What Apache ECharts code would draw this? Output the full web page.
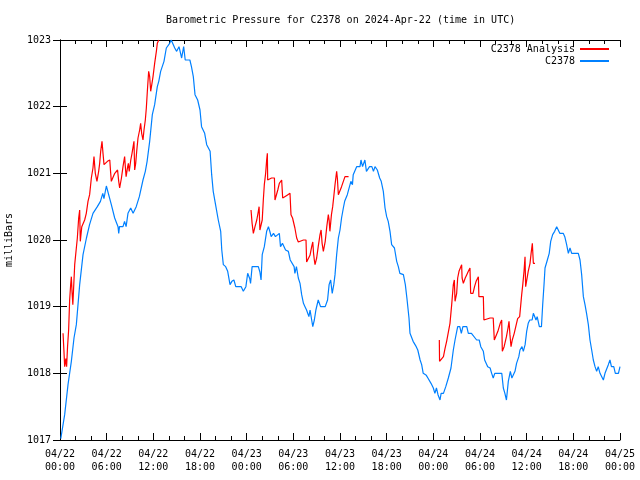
<!DOCTYPE html>
<html>
<head>
<meta charset="utf-8">
<script src="https://cdn.jsdelivr.net/npm/echarts@6/dist/echarts.min.js"></script>
<style>html,body{margin:0;padding:0;background:#fff}#c{width:640px;height:480px}</style>
</head>
<body>
<div id="c"></div>
<script>
// Hours since 2024-04-22 00:00 UTC
var tickLabels = ["04/22\n00:00","04/22\n06:00","04/22\n12:00","04/22\n18:00","04/23\n00:00","04/23\n06:00","04/23\n12:00","04/23\n18:00","04/24\n00:00","04/24\n06:00","04/24\n12:00","04/24\n18:00","04/25\n00:00"];

var obsHours = [0.1,0.6,1.03,1.46,1.8,2.1,2.53,2.96,3.4,3.8,4.24,4.8,5.2,5.5,5.65,5.96,6.2,6.6,7.03,7.46,7.55,7.65,8.1,8.3,8.5,8.74,9.09,9.4,9.8,10.2,10.67,10.97,11.2,11.53,11.87,12.17,12.51,12.7,12.94,13.37,13.67,14.1,14.3,14.75,15.0,15.3,15.64,15.9,16.1,16.7,16.9,17.14,17.36,17.7,18.0,18.2,18.6,18.86,19.3,19.5,19.7,20.0,20.35,20.66,20.8,21.0,21.3,21.56,21.86,22.1,22.36,22.6,23.3,23.57,23.7,23.9,24.13,24.4,24.5,24.7,25.5,25.7,25.85,26.0,26.27,26.57,26.8,27.0,27.15,27.45,27.7,27.9,28.2,28.35,28.6,29.0,29.36,29.6,30.1,30.2,30.4,30.64,30.86,31.07,31.3,31.5,31.7,31.9,32.0,32.15,32.36,32.5,32.7,32.9,33.2,33.5,34.1,34.4,34.6,34.8,35.0,35.2,35.36,35.57,35.79,36.0,36.2,36.43,36.6,36.94,37.1,37.4,37.6,37.7,38.14,38.57,38.7,38.9,39.2,39.4,39.6,39.8,40.1,40.3,40.5,40.8,41.1,41.3,41.57,41.79,42.0,42.2,42.43,42.64,43.0,43.29,43.5,43.7,44.15,44.4,44.6,44.87,45.0,45.4,45.8,46.0,46.3,46.5,46.7,47.1,47.3,47.7,48.0,48.2,48.4,48.6,48.86,49.0,49.3,49.6,49.93,50.27,50.57,50.79,51.13,51.4,51.6,51.8,52.3,52.5,52.9,53.57,53.9,54.1,54.43,54.6,54.99,55.3,55.5,55.7,55.9,56.8,57.0,57.2,57.4,57.64,57.9,58.1,58.3,58.5,58.7,58.99,59.14,59.4,59.57,59.8,60.0,60.2,60.4,60.7,60.86,61.07,61.2,61.35,61.63,61.9,62.06,62.23,62.36,62.66,62.9,63.09,63.34,63.6,63.86,64.05,64.26,64.7,64.9,65.14,65.36,65.57,65.79,66.64,66.86,67.07,67.29,67.5,67.7,67.93,68.14,68.36,68.57,68.79,69.0,69.2,69.43,69.6,69.86,70.07,70.3,70.5,70.71,70.9,71.2,71.4,71.8,72.0];
var obsPressure = [1017.02,1017.38,1017.83,1018.18,1018.53,1018.73,1019.33,1019.78,1020.03,1020.23,1020.4,1020.5,1020.58,1020.7,1020.62,1020.81,1020.78,1020.53,1020.33,1020.2,1020.1,1020.2,1020.2,1020.28,1020.2,1020.4,1020.48,1020.4,1020.5,1020.65,1020.9,1021.03,1021.18,1021.48,1021.88,1022.03,1022.3,1022.38,1022.53,1022.68,1022.88,1022.95,1023.0,1022.88,1022.83,1022.9,1022.73,1022.9,1022.7,1022.7,1022.6,1022.45,1022.18,1022.1,1021.95,1021.7,1021.6,1021.43,1021.33,1020.98,1020.73,1020.53,1020.3,1020.13,1019.85,1019.63,1019.6,1019.53,1019.33,1019.38,1019.4,1019.3,1019.3,1019.23,1019.2,1019.3,1019.5,1019.42,1019.35,1019.6,1019.6,1019.52,1019.4,1019.78,1019.9,1020.13,1020.2,1020.12,1020.05,1020.1,1020.05,1020.05,1020.1,1019.9,1019.95,1019.85,1019.83,1019.7,1019.6,1019.5,1019.6,1019.43,1019.35,1019.18,1019.05,1019.0,1018.95,1018.98,1018.85,1018.95,1018.8,1018.7,1018.8,1018.95,1019.1,1019.0,1019.0,1019.1,1019.33,1019.4,1019.2,1019.33,1019.48,1019.78,1020.03,1020.15,1020.33,1020.48,1020.58,1020.68,1020.7,1020.88,1020.83,1020.98,1021.1,1021.1,1021.2,1021.1,1021.2,1021.03,1021.05,1021.1,1021.1,1021.03,1021.1,1021.05,1020.93,1020.88,1020.73,1020.48,1020.35,1020.28,1020.13,1019.93,1019.88,1019.68,1019.6,1019.5,1019.48,1019.33,1019.13,1018.83,1018.6,1018.48,1018.4,1018.35,1018.2,1018.13,1018.0,1017.97,1017.93,1017.85,1017.78,1017.7,1017.78,1017.68,1017.6,1017.7,1017.7,1017.8,1017.93,1018.08,1018.35,1018.5,1018.7,1018.7,1018.6,1018.7,1018.7,1018.6,1018.6,1018.5,1018.5,1018.4,1018.33,1018.2,1018.1,1018.08,1018.0,1017.93,1018.0,1018.0,1017.78,1017.7,1017.6,1017.88,1018.03,1017.93,1017.93,1018.03,1018.15,1018.25,1018.35,1018.4,1018.33,1018.43,1018.63,1018.75,1018.8,1018.8,1018.9,1018.9,1018.8,1018.85,1018.7,1018.7,1019.03,1019.33,1019.58,1019.7,1019.8,1019.98,1020.08,1020.13,1020.2,1020.2,1020.1,1020.1,1020.05,1019.93,1019.8,1019.88,1019.8,1019.8,1019.7,1019.48,1019.15,1019.03,1018.9,1018.73,1018.5,1018.35,1018.2,1018.1,1018.03,1018.1,1018.0,1017.98,1017.9,1018.0,1018.03,1018.13,1018.2,1018.1,1018.1,1018.0,1018.0,1018.1];

var anaHours1 = [0.39,0.5,0.6,0.75,0.85,0.97,1.11,1.24,1.37,1.46,1.55,1.65,1.77,1.89,2.1,2.23,2.4,2.53,2.57,2.61,2.8,2.96,3.17,3.38,3.6,3.81,4.03,4.24,4.37,4.54,4.75,4.97,5.1,5.23,5.4,5.53,5.66,6.1,6.4,6.5,6.6,6.8,7.04,7.4,7.46,7.55,7.67,7.9,8.1,8.31,8.4,8.5,8.7,8.79,8.9,9.1,9.26,9.51,9.6,9.73,9.86,10.03,10.24,10.37,10.5,10.67,10.8,10.97,11.1,11.23,11.4,11.53,11.66,11.8,11.96,12.17,12.39,12.51,12.7];
var anaPressure1 = [1018.6,1018.35,1018.1,1018.22,1018.1,1018.4,1018.65,1019.1,1019.33,1019.45,1019.22,1019.03,1019.33,1019.63,1019.88,1020.03,1020.33,1020.45,1020.2,1019.98,1020.2,1020.2,1020.3,1020.4,1020.58,1020.68,1020.93,1021.08,1021.25,1021.0,1020.88,1021.03,1021.15,1021.33,1021.48,1021.3,1021.13,1021.18,1021.2,1021.03,1020.88,1020.88,1021.0,1021.05,1021.08,1020.88,1020.78,1020.93,1021.1,1021.25,1021.1,1020.95,1021.1,1021.15,1021.03,1021.2,1021.3,1021.48,1021.05,1021.15,1021.33,1021.53,1021.65,1021.75,1021.6,1021.5,1021.65,1021.8,1021.98,1022.23,1022.53,1022.45,1022.23,1022.33,1022.45,1022.65,1022.83,1022.95,1023.0];

var anaHours2 = [24.56,24.7,24.86,25.07,25.3,25.5,25.6,25.7,25.9,26.0,26.14,26.27,26.44,26.57,26.66,26.7,27.2,27.57,27.64,27.85,28.0,28.2,28.5,28.63,28.9,29.3,29.57,29.7,29.9,30.2,30.43,30.64,31.3,31.63,31.71,31.95,32.14,32.36,32.5,32.6,32.7,32.79,33.0,33.2,33.43,33.57,33.7,33.86,34.1,34.3,34.5,34.6,34.7,34.9,35.06,35.2,35.36,35.57,35.66,35.79,36.0,36.2,36.43,36.64,37.1];
var anaPressure2 = [1020.45,1020.25,1020.1,1020.2,1020.3,1020.43,1020.5,1020.15,1020.15,1020.3,1020.6,1020.83,1021.0,1021.2,1021.3,1020.9,1020.93,1020.93,1020.6,1020.63,1020.75,1020.85,1020.9,1020.63,1020.65,1020.68,1020.7,1020.38,1020.33,1020.18,1020.03,1019.97,1020.0,1020.0,1019.67,1019.67,1019.77,1019.9,1019.97,1019.8,1019.7,1019.63,1019.73,1019.9,1020.08,1020.15,1019.95,1019.83,1019.98,1020.2,1020.38,1020.3,1020.13,1020.38,1020.5,1020.65,1020.83,1021.03,1020.93,1020.68,1020.7,1020.8,1020.88,1020.95,1020.95];

var anaHours3 = [48.77,48.8,49.05,49.3,49.5,49.71,49.93,50.14,50.36,50.57,50.7,50.79,51.0,51.13,51.3,51.43,51.64,51.7,51.86,52.1,52.3,52.5,52.71,52.8,53.1,53.3,53.5,53.79,53.86,54.43,54.5,55.3,55.5,55.7,55.84,56.0,56.3,56.6,56.79,56.87,57.1,57.4,57.6,57.73,57.85,57.99,58.15,58.4,58.6,58.84,59.1,59.36,59.5,59.66,59.79,59.87,60.1,60.2,60.43,60.57,60.73,60.86,61.07];
var anaPressure3 = [1018.5,1018.18,1018.18,1018.25,1018.37,1018.48,1018.5,1018.75,1019.03,1019.33,1019.4,1019.08,1019.2,1019.43,1019.53,1019.55,1019.63,1019.43,1019.35,1019.43,1019.48,1019.53,1019.58,1019.2,1019.2,1019.3,1019.38,1019.45,1019.15,1019.15,1018.8,1018.83,1018.85,1018.83,1018.5,1018.52,1018.63,1018.75,1018.8,1018.33,1018.4,1018.55,1018.68,1018.78,1018.58,1018.4,1018.5,1018.6,1018.7,1018.82,1018.85,1019.18,1019.33,1019.53,1019.75,1019.3,1019.3,1019.53,1019.65,1019.8,1019.95,1019.65,1019.65];

function pairs(h, v) { return h.map(function (x, i) { return [x, v[i]]; }); }
var obsData = pairs(obsHours, obsPressure);
var anaData = pairs(anaHours1, anaPressure1)
  .concat([[18, null]])
  .concat(pairs(anaHours2, anaPressure2))
  .concat([[42, null]])
  .concat(pairs(anaHours3, anaPressure3));

var FONT = 'DejaVu Sans Mono';
var chart = echarts.init(document.getElementById('c'), null, { renderer: 'canvas' });

var xCommon = {
  type: 'value', min: 0, max: 72, interval: 6,
  splitLine: { show: false },
  axisLine: { show: true, lineStyle: { color: '#000', width: 1 } },
  axisTick: { show: true, inside: true, length: 7, lineStyle: { color: '#000' } },
  minorTick: { show: true, splitNumber: 3, length: 4, lineStyle: { color: '#000' } }
};
var yCommon = {
  type: 'value', min: 1017, max: 1023, interval: 1,
  splitLine: { show: false },
  axisLine: { show: true, lineStyle: { color: '#000', width: 1 } },
  axisTick: { show: true, inside: true, length: 7, lineStyle: { color: '#000' } }
};

chart.setOption({
  animation: false,
  backgroundColor: '#fff',
  textStyle: { fontFamily: FONT },
  title: {
    text: 'Barometric Pressure for C2378 on 2024-Apr-22 (time in UTC)',
    left: 166, top: 15, padding: 0,
    textStyle: { fontFamily: FONT, fontSize: 10, fontWeight: 'normal', color: '#000' }
  },
  legend: {
    orient: 'vertical', align: 'right', right: 30, top: 44, padding: 0,
    itemWidth: 29, itemHeight: 12, itemGap: 2,
    itemStyle: { opacity: 0 },
    textStyle: { fontFamily: FONT, fontSize: 10, color: '#000' },
    data: ['C2378 Analysis', 'C2378']
  },
  grid: { left: 60, right: 20, top: 40, bottom: 40, show: false, containLabel: false, outerBoundsMode: 'none' },
  xAxis: [
    Object.assign({}, xCommon, {
      position: 'bottom',
      axisLabel: {
        show: true, margin: 8, color: '#000', fontFamily: FONT, fontSize: 10, lineHeight: 13,
        hideOverlap: false,
        formatter: function (v) { return tickLabels[Math.round(v / 6)]; }
      }
    }),
    Object.assign({}, xCommon, { position: 'top', axisLabel: { show: false } })
  ],
  yAxis: [
    Object.assign({}, yCommon, {
      position: 'left',
      name: 'milliBars', nameLocation: 'middle', nameGap: 46, nameRotate: 90,
      nameTextStyle: { fontFamily: FONT, fontSize: 10, color: '#000' },
      axisLabel: {
        show: true, margin: 9, color: '#000', fontFamily: FONT, fontSize: 10,
        formatter: function (v) { return String(v); }
      }
    }),
    Object.assign({}, yCommon, { position: 'right', axisLabel: { show: false } })
  ],
  series: [
    {
      name: 'C2378 Analysis', type: 'line', data: anaData,
      symbol: 'none', showSymbol: false, connectNulls: false,
      lineStyle: { color: '#ff0000', width: 1.2 }, itemStyle: { color: '#ff0000' }
    },
    {
      name: 'C2378', type: 'line', data: obsData,
      symbol: 'none', showSymbol: false,
      lineStyle: { color: '#0080ff', width: 1.2 }, itemStyle: { color: '#0080ff' }
    }
  ]
});
</script>
</body>
</html>
